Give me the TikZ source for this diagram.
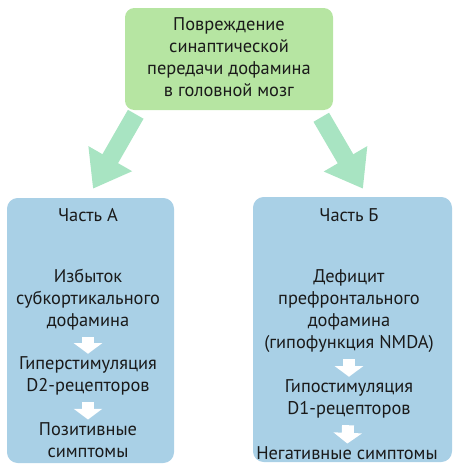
\documentclass[tikz,border=0pt]{standalone}
\usepackage{fontspec}
\setmainfont{PT Sans}
\usepackage{tikz}
\usetikzlibrary{arrows.meta, positioning, calc}
\definecolor{CauseGreen}{HTML}{B6E5A2}
\definecolor{ArrowMint}{HTML}{A8E4C2}
\definecolor{PartBlue}{HTML}{A9D0E6}
\definecolor{TextDark}{HTML}{1A1A1A}
\tikzset{
  % Box styles
  causebox/.style={rectangle, rounded corners=7pt, fill=CauseGreen, minimum width=156pt, minimum height=76.5pt},
  partbox/.style={rectangle, rounded corners=8pt, fill=PartBlue, minimum height=198.75pt},
  % Text styles
  stagetext/.style={align=center, inner sep=0pt, text=TextDark, font=\fontsize{13.8}{16.5}\selectfont},
  % Arrow styles
  bigarrow/.style={draw=ArrowMint, line width=13.5pt, -{Triangle[width=36pt, length=26pt]}},
  smallarrow/.style={draw=white, line width=9pt, -{Triangle[width=21pt, length=8pt]}, shorten <=5pt, shorten >=2pt}
}

\begin{document}
\begin{tikzpicture}[x=0.75pt, y=-0.75pt]
  \useasboundingbox (0,0) rectangle (460,472);

  % Top box
  \node[causebox] (top) at (229,59) {};
  \node[stagetext, text depth=0pt] (cause) at (229,57) {Повреждение\\синаптической\\передачи дофамина\\в головной мозг};

  % Part boxes
  \node[partbox, minimum width=125.25pt] (partA) at (90.5,330.5) {};
  \node[partbox, minimum width=149.25pt] (partB) at (352.5,329.5) {};

  % Part A
  \node[stagetext] (titleA) at (88,215) {Часть А};
  \node[stagetext] (excessA) at (88,300) {Избыток\\субкортикального\\дофамина};
  \node[stagetext] (hyperA) at (88,376) {Гиперстимуляция\\D2-рецепторов};
  \node[stagetext] (posA) at (88,440) {Позитивные\\симптомы};

  % Part B
  \node[stagetext] (titleB) at (349,215) {Часть Б};
  \node[stagetext] (deficitB) at (349,311) {Дефицит\\префронтального\\дофамина\\(гипофункция NMDA)};
  \node[stagetext] (hypoB) at (349,399) {Гипостимуляция\\D1-рецепторов};
  \node[stagetext] (negB) at (347,453) {Негативные симптомы};

  % Arrows
  \draw[bigarrow] ($(top.south west)+(11,4)$) -- ($(partA.north)+(2.5,-9)$);
  \draw[bigarrow] ($(top.south east)+(-12,7)$) -- ($(partB.north)+(10.5,-8)$);
  \draw[smallarrow] (excessA) -- (hyperA);
  \draw[smallarrow] (hyperA) -- (posA);
  \draw[smallarrow] (deficitB) -- (hypoB);
  \draw[smallarrow] (hypoB) -- (negB);
\end{tikzpicture}
\end{document}
